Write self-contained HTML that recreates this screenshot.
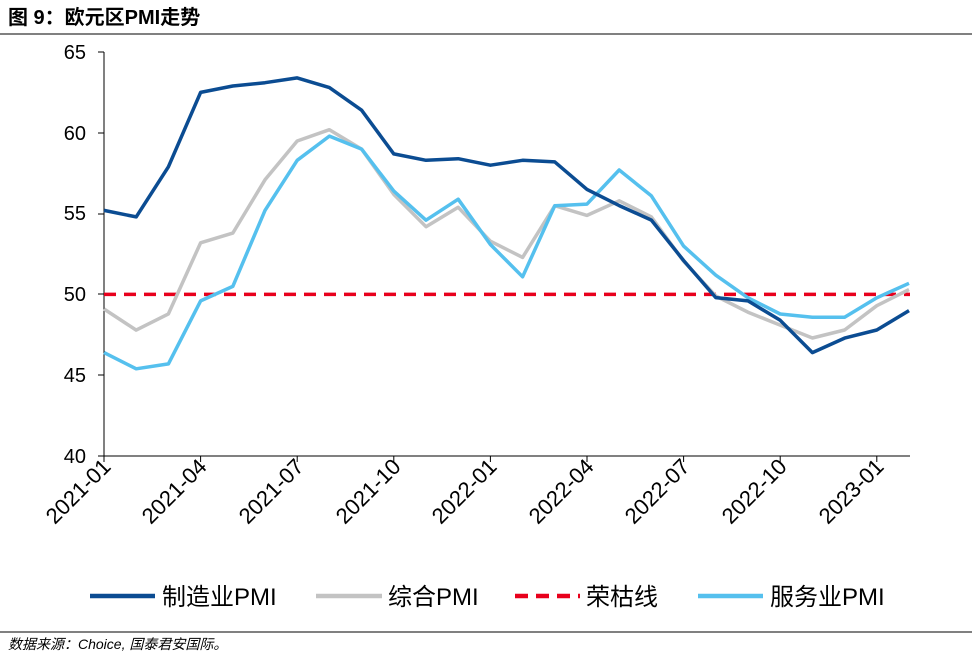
<!DOCTYPE html>
<html><head><meta charset="utf-8"><style>
html,body{margin:0;padding:0;background:#fff;width:972px;height:654px;overflow:hidden}
text{font-family:"Liberation Sans","Noto Sans CJK SC",sans-serif}
</style></head><body>
<svg width="972" height="654" viewBox="0 0 972 654" xmlns="http://www.w3.org/2000/svg">
<text x="8" y="24" font-size="20" font-weight="bold" fill="#000">图 9：欧元区PMI走势</text>
<line x1="0" y1="34" x2="972" y2="34" stroke="#000" stroke-width="1"/>
<line x1="0" y1="632" x2="972" y2="632" stroke="#000" stroke-width="1"/>
<text x="8" y="649" font-size="14" font-style="italic" fill="#000">数据来源：Choice, 国泰君安国际。</text>
<g font-size="20" fill="#000" text-anchor="end">
<text x="86" y="59">65</text><text x="86" y="140">60</text><text x="86" y="220">55</text>
<text x="86" y="301">50</text><text x="86" y="382">45</text><text x="86" y="463">40</text>
</g>
<line x1="104" y1="52" x2="104" y2="456" stroke="#000"/>
<line x1="104" y1="456" x2="910" y2="456" stroke="#000"/>
<g stroke="#000">
<line x1="98" y1="52" x2="104" y2="52"/><line x1="98" y1="133" x2="104" y2="133"/><line x1="98" y1="214" x2="104" y2="214"/><line x1="98" y1="294" x2="104" y2="294"/><line x1="98" y1="375" x2="104" y2="375"/><line x1="98" y1="456" x2="104" y2="456"/>
<line x1="104" y1="456" x2="104" y2="462"/><line x1="200.6" y1="456" x2="200.6" y2="462"/><line x1="297.2" y1="456" x2="297.2" y2="462"/><line x1="393.8" y1="456" x2="393.8" y2="462"/><line x1="490.4" y1="456" x2="490.4" y2="462"/><line x1="587" y1="456" x2="587" y2="462"/><line x1="683.6" y1="456" x2="683.6" y2="462"/><line x1="780.2" y1="456" x2="780.2" y2="462"/><line x1="876.8" y1="456" x2="876.8" y2="462"/>
</g>
<g font-size="22" fill="#000" text-anchor="end">
<text transform="translate(112,468) rotate(-45)">2021-01</text>
<text transform="translate(208,468) rotate(-45)">2021-04</text>
<text transform="translate(305,468) rotate(-45)">2021-07</text>
<text transform="translate(402,468) rotate(-45)">2021-10</text>
<text transform="translate(498,468) rotate(-45)">2022-01</text>
<text transform="translate(595,468) rotate(-45)">2022-04</text>
<text transform="translate(691,468) rotate(-45)">2022-07</text>
<text transform="translate(788,468) rotate(-45)">2022-10</text>
<text transform="translate(885,468) rotate(-45)">2023-01</text>
</g>
<line x1="104" y1="294.4" x2="910" y2="294.4" stroke="#e8001c" stroke-width="3.5" stroke-dasharray="12,8"/>
<polyline fill="none" stroke="#c3c3c3" stroke-width="3.5" stroke-linejoin="round" points="104,309.0 136.2,330.1 168.4,313.9 200.6,242.8 232.8,233.1 265,179.8 297.2,141.0 329.4,129.7 361.6,149.1 393.8,194.4 426,226.7 458.2,207.3 490.4,241.2 522.6,257.4 554.8,205.7 587,215.4 619.2,200.8 651.4,217.0 683.6,261.2 715.8,296.0 748,312.2 780.2,325.1 812.4,338.0 844.6,330.0 876.8,305.7 909,289.6"/>
<polyline fill="none" stroke="#55c0ee" stroke-width="3.5" stroke-linejoin="round" points="104,352.6 136.2,368.8 168.4,363.9 200.6,300.9 232.8,286.4 265,210.4 297.2,160.3 329.4,136.1 361.6,149.1 393.8,191.1 426,220.2 458.2,199.2 490.4,244.5 522.6,276.8 554.8,205.7 587,204.1 619.2,170.0 651.4,195.9 683.6,246.1 715.8,275.2 748,297.8 780.2,314.0 812.4,317.2 844.6,317.2 876.8,297.8 909,283.3"/>
<polyline fill="none" stroke="#0b4c92" stroke-width="3.5" stroke-linejoin="round" points="104,210.4 136.2,216.9 168.4,166.8 200.6,92.4 232.8,86.0 265,82.7 297.2,77.9 329.4,87.6 361.6,110.2 393.8,153.9 426,160.3 458.2,158.7 490.4,165.2 522.6,160.3 554.8,161.9 587,189.4 619.2,205.6 651.4,220.1 683.6,260.5 715.8,297.6 748,300.9 780.2,320.3 812.4,352.6 844.6,338.1 876.8,330.0 909,310.6"/>
<g font-size="24" fill="#000">
<line x1="90" y1="596" x2="155" y2="596" stroke="#0b4c92" stroke-width="4.5"/>
<text x="162" y="605">制造业PMI</text>
<line x1="316" y1="596" x2="382" y2="596" stroke="#c3c3c3" stroke-width="4.5"/>
<text x="388" y="605">综合PMI</text>
<line x1="515" y1="596" x2="580" y2="596" stroke="#e8001c" stroke-width="4.5" stroke-dasharray="13,8"/>
<text x="586" y="605">荣枯线</text>
<line x1="698" y1="596" x2="763" y2="596" stroke="#55c0ee" stroke-width="4.5"/>
<text x="770" y="605">服务业PMI</text>
</g>
</svg>
</body></html>
